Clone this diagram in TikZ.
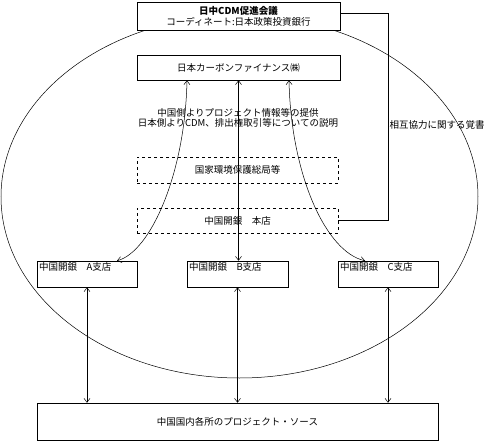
\documentclass[tikz,border=0pt]{standalone}
\usepackage{fontspec}
\newfontfamily\jpfont{Noto Sans CJK JP}
\usetikzlibrary{arrows.meta}

\tikzset{
  box/.style={draw, fill=white, minimum width=203pt, minimum height=26pt, inner sep=1pt},
  dbox/.style={box, dashed, minimum width=201pt},
  branch/.style={draw, minimum width=100pt, minimum height=26pt, inner sep=0pt},
  link/.style={<->}
}

\begin{document}
\begin{tikzpicture}[x=1pt,y=-1pt, line width=0.5pt,
  font=\jpfont\fontsize{9.5}{11}\selectfont,
  >={Straight Barb[length=4pt,width=6pt]}]
\useasboundingbox (0,0) rectangle (488,444);
\draw (239.5,196.8) ellipse [x radius=238.5, y radius=181.2];
\node[box, minimum height=28pt, align=center] (cdm) at (238.5,16) {{\bfseries 日中CDM促進会議}\\コーディネート:日本政策投資銀行};
\node[box, minimum height=25pt] (jcf) at (238.5,67.5) {日本カーボンファイナンス㈱};
\node[align=center, inner sep=0pt] (info) at (238,118) {中国側よりプロジェクト情報等の提供\\[-0.5pt]日本側よりCDM、排出権取引等についての説明};
\node[dbox] (sepa) at (237.5,170) {国家環境保護総局等};
\node[dbox, minimum height=25pt] (hq) at (237.5,220.5) {中国開銀　本店};
\node[branch, label={[anchor=north west, inner sep=2pt]north west:中国開銀　A支店}] (brA) at (87,274) {};
\node[branch, minimum width=101pt, label={[anchor=north west, inner sep=2pt]north west:中国開銀　B支店}] (brB) at (237.5,274) {};
\node[branch, label={[anchor=north west, inner sep=2pt]north west:中国開銀　C支店}] (brC) at (388,274) {};
\node[draw, minimum width=401pt, minimum height=37pt] (src) at (237.5,421.5) {中国国内各所のプロジェクト・ソース};
% MoU line
\draw ([yshift=3pt]cdm.east) -- ++(48,0) |- node[pos=0.27, right, inner sep=1pt]{相互協力に関する覚書} (hq.east);
% arrows
\draw[link] ([xshift=-51.5pt]jcf.south) .. controls (185,175) and (150,252) .. ([xshift=30pt]brA.north);
\draw[link] (jcf.south) -- (jcf.south |- brB.north);
\draw[link] ([xshift=50.5pt]jcf.south) .. controls (291,175) and (326,252) .. ([xshift=-23pt]brC.north);
\draw[link] (brA.south) -- (brA.south |- src.north);
\draw[link] (brB.south) -- (brB.south |- src.north);
\draw[link] (brC.south) -- (brC.south |- src.north);
\end{tikzpicture}
\end{document}
